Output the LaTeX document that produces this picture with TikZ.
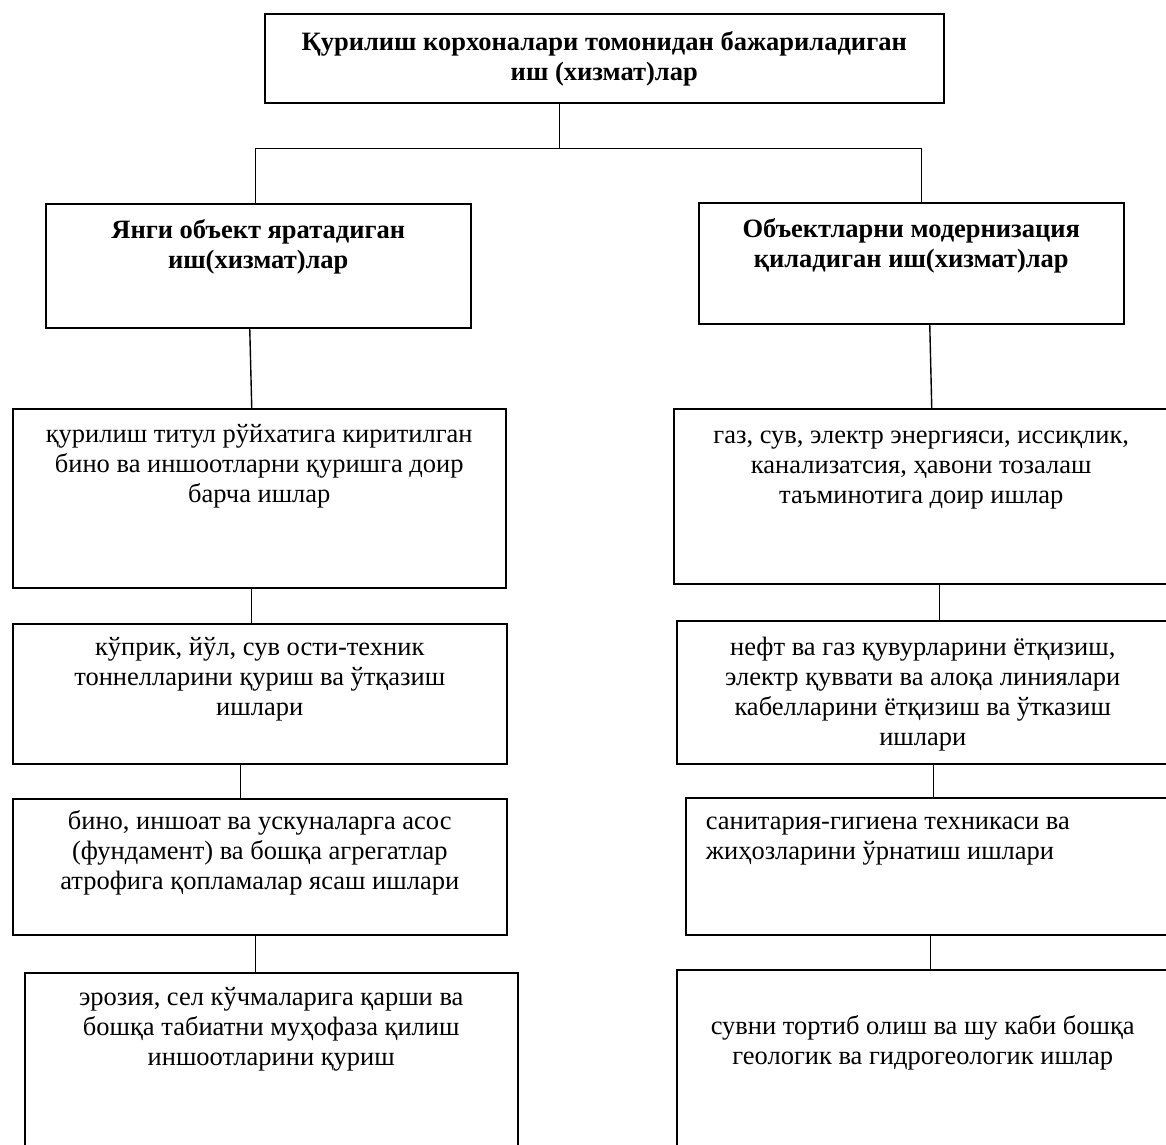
\documentclass[tikz,border=0pt]{standalone}
\usepackage{fontspec}
\setmainfont{Liberation Serif}
\newcommand{\boxtxt}[4]{\parbox[c][#2][t]{#1}{\centering\vspace*{#3}\strut#4}}

\begin{document}
\begin{tikzpicture}[x=1pt,y=-1pt,
    box/.style={draw, line width=1.5pt, inner sep=0pt, anchor=north west,
      font=\fontsize{26.5}{30}\selectfont},
    head/.style={box, font=\fontsize{26.5}{30}\selectfont\bfseries},
    link/.style={line width=1.4pt}]
  \useasboundingbox (0,0) rectangle (1166,1144);
  \clip (0,0) rectangle (1166,1144);

  \node[head] (top) at (264,13)
    {\boxtxt{679pt}{89pt}{16pt}{Қурилиш корхоналари томонидан бажариладиган\\иш (хизмат)лар}};
  \node[head] (lA) at (45,203)
    {\boxtxt{425pt}{124pt}{14pt}{Янги объект яратадиган\\иш(хизмат)лар}};
  \node[head] (rA) at (698,202)
    {\boxtxt{425pt}{121pt}{14pt}{Объектларни модернизация\\қиладиган иш(хизмат)лар}};

  \node[box] (lB) at (12,408)
    {\boxtxt{493pt}{179pt}{13pt}{қурилиш титул рўйхатига киритилган\\бино ва иншоотларни қуришга доир\\барча ишлар}};
  \node[box] (lC) at (12,623)
    {\boxtxt{494pt}{140pt}{11pt}{кўприк, йўл, сув ости-техник\\тоннелларини қуриш ва ўтқазиш\\ишлари}};
  \node[box] (lD) at (12,798)
    {\boxtxt{494pt}{136pt}{10pt}{бино, иншоат ва ускуналарга асос\\(фундамент) ва бошқа агрегатлар\\атрофига қопламалар ясаш ишлари}};
  \node[box] (lE) at (24,972)
    {\boxtxt{493pt}{190pt}{12pt}{эрозия, сел кўчмаларига қарши ва\\бошқа табиатни муҳофаза қилиш\\иншоотларини қуриш}};

  \node[box] (rB) at (673,408)
    {\boxtxt{495pt}{175pt}{14pt}{газ, сув, электр энергияси, иссиқлик,\\канализатсия, ҳавони тозалаш\\таъминотига доир ишлар}};
  \node[box] (rC) at (676,620)
    {\boxtxt{492pt}{143pt}{14pt}{нефт ва газ қувурларини ётқизиш,\\электр қуввати ва алоқа линиялари\\кабелларини ётқизиш ва ўтказиш\\ишлари}};
  \node[box] (rD) at (685,797)
    {\parbox[c][137pt][t]{483pt}{\raggedright\leftskip=20pt\vspace*{11pt}\strut санитария-гигиена техникаси ва\\жиҳозларини ўрнатиш ишлари}};
  \node[box] (rE) at (676,969)
    {\boxtxt{492pt}{190pt}{44pt}{сувни тортиб олиш ва шу каби бошқа\\геологик ва гидрогеологик ишлар}};

  \draw[link] ([xshift=-44.5pt]top.south) -- ++(0,45) coordinate (split);
  \draw[link] ([xshift=-2.5pt]lA.north) |- (split) -| ([xshift=10.5pt]rA.north);

  \draw[link] ([xshift=-8.5pt]lA.south) -- ([xshift=-7.5pt]lB.north);
  \draw[link] ([xshift=-7.5pt]lB.south) -- ([xshift=-8pt]lC.north);
  \draw[link] ([xshift=-19pt]lC.south) -- ([xshift=-19pt]lD.north);
  \draw[link] ([xshift=-4pt]lD.south) -- ([xshift=-15.5pt]lE.north);

  \draw[link] ([xshift=18.5pt]rA.south) -- ([xshift=10.5pt]rB.north);
  \draw[link] ([xshift=18.5pt]rB.south) -- ([xshift=17pt]rC.north);
  \draw[link] ([xshift=11pt]rC.south) -- ([xshift=6.5pt]rD.north);
  \draw[link] ([xshift=3.5pt]rD.south) -- ([xshift=8pt]rE.north);
\end{tikzpicture}
\end{document}
